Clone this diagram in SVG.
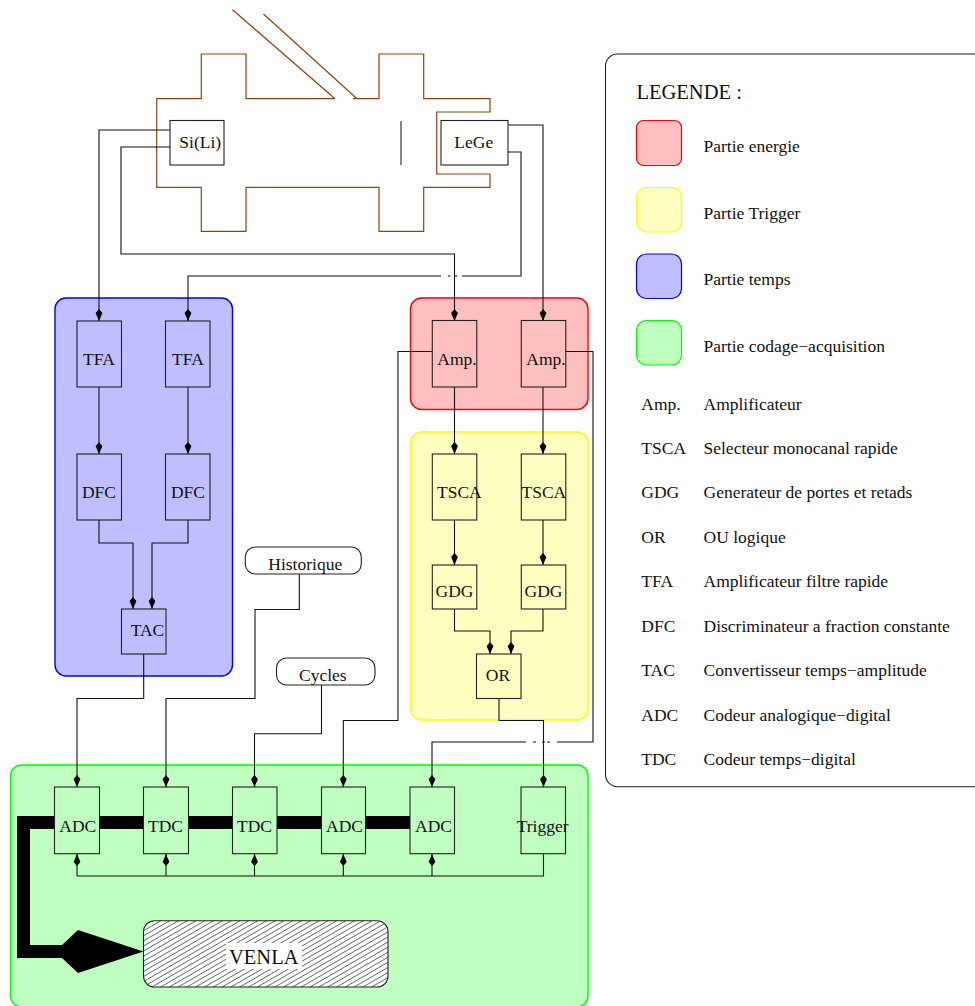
<svg xmlns="http://www.w3.org/2000/svg" width="975" height="1006" viewBox="0 0 975 1006">
<style>
text{font-family:"Liberation Serif","Times New Roman",serif;font-size:17.5px;fill:#111}
.big{font-size:20.5px}
.c{fill:none;stroke:#111;stroke-width:1.1}
.a{marker-end:url(#tip)}
.n{stroke:#222;stroke-width:1.1}
.ch{fill:none;stroke:#8b4513;stroke-width:1.2}
.r{fill:#ffbfbf}.y{fill:#ffffbf}.b{fill:#bfbfff}.g{fill:#bfffbf}
.gr{stroke-width:1.4}
</style>
<defs>
<marker id="tip" markerUnits="userSpaceOnUse" markerWidth="14" markerHeight="10" refX="12" refY="4" orient="auto"><path d="M0,4 L4,0.6 L12,4 L4,7.4 Z" fill="#000"/></marker>
<pattern id="hatch" patternUnits="userSpaceOnUse" width="8" height="4.4" patternTransform="rotate(-30)"><path d="M0,2.2H8" stroke="#333" stroke-width="0.7"/></pattern>
</defs>
<rect width="975" height="1006" fill="#fff"/>

<g id="chamber">
<path class="ch" d="M335,98.7H246V54H201.3V98.7H156.7V187.3H201.3V231.3H246V187.3H379V231.3H423.7V187.3H490V174H436.7V112H490V98.7H423.7V54H379V98.7H353"/>
<path class="ch" d="M335,98.7L232.5,9.7M357,98.7L263.5,14"/>
<path d="M401,121V165" stroke="#111" stroke-width="1" fill="none"/>
</g>

<g id="group-temps"><rect class="b gr" x="55" y="298" width="177.5" height="378" rx="11" stroke="#00f"/></g>
<g id="group-energie"><rect class="r gr" x="410.5" y="298" width="177.5" height="111.5" rx="11" stroke="#f00"/></g>
<g id="group-trigger"><rect class="y gr" x="410.5" y="432" width="177.5" height="288" rx="11" stroke="#ff0"/></g>
<g id="group-codage"><rect class="g gr" x="10.5" y="765" width="577.5" height="242" rx="11" stroke="#0f0"/></g>

<g id="connectors">
<path class="c a" d="M170,130H99V321"/>
<path class="c a" d="M170,147H121V254H454.5V321"/>
<path class="c a" d="M508,125H543V321"/>
<path class="c a" d="M508,152H521V276H462M457.5,276H455M450.5,276H448M441,276H188V321"/>
<path class="c a" d="M99,387V454"/>
<path class="c a" d="M188,387V454"/>
<path class="c a" d="M99,520V543H133V609"/>
<path class="c a" d="M188,520V543H152V609"/>
<path class="c a" d="M454.5,387V454"/>
<path class="c a" d="M543,387V454"/>
<path class="c a" d="M454.5,520V565"/>
<path class="c a" d="M543,520V565"/>
<path class="c a" d="M454.5,609V631H490V654"/>
<path class="c a" d="M543,609V631H511V654"/>
<path class="c a" d="M499,698V720.5H543.5V787"/>
<path class="c a" d="M432,351.5H398V720.5H343.3V787"/>
<path class="c a" d="M565.5,351.5H593V742H557M550,742H547M545,742H542M536,742H533M526,742H432V787"/>
<path class="c a" d="M143.7,654V698.5H77V787"/>
<path class="c a" d="M299.3,574V609.5H255V698.5H166V787"/>
<path class="c a" d="M321.5,685V733.7H254.5V787"/>
<path class="c" d="M543.5,853.7V876H77"/>
<path class="c a" d="M77,876V854"/>
<path class="c a" d="M166,876V854"/>
<path class="c a" d="M254.5,876V854"/>
<path class="c a" d="M343.3,876V854"/>
<path class="c a" d="M432,876V854"/>
<path d="M410,822.5H23.5V951.5H70" fill="none" stroke="#000" stroke-width="13"/>
<path d="M62,945L78,930L143.5,951.5L78,973L62,958Z" fill="#000"/>
</g>

<g id="si-li"><rect class="n" x="170" y="120.5" width="54" height="44.5" fill="#fff"/><text x="179.3" y="148">Si(Li)</text></g>
<g id="lege"><rect class="n" x="441" y="120.5" width="67" height="44.5" fill="#fff"/><text x="454.3" y="148">LeGe</text></g>

<g id="tfa1"><rect class="n b" x="77" y="321" width="44.5" height="66"/><text x="99" y="365" text-anchor="middle">TFA</text></g>
<g id="tfa2"><rect class="n b" x="165.5" y="321" width="44.5" height="66"/><text x="188" y="365" text-anchor="middle">TFA</text></g>
<g id="dfc1"><rect class="n b" x="77" y="454" width="44.5" height="66"/><text x="99" y="498" text-anchor="middle">DFC</text></g>
<g id="dfc2"><rect class="n b" x="165.5" y="454" width="44.5" height="66"/><text x="188" y="498" text-anchor="middle">DFC</text></g>
<g id="tac"><rect class="n b" x="121.5" y="609" width="44.5" height="45"/><text x="130.7" y="636">TAC</text></g>

<g id="amp1"><rect class="n r" x="432.3" y="320.5" width="44.5" height="66.5"/><text x="437.3" y="365">Amp.</text></g>
<g id="amp2"><rect class="n r" x="521.3" y="320.5" width="44.5" height="66.5"/><text x="526.3" y="365">Amp.</text></g>
<g id="tsca1"><rect class="n y" x="432.3" y="454" width="44.5" height="66"/><text x="437" y="498">TSCA</text></g>
<g id="tsca2"><rect class="n y" x="521.3" y="454" width="44.5" height="66"/><text x="521.5" y="498">TSCA</text></g>
<g id="gdg1"><rect class="n y" x="432.3" y="565" width="44.5" height="44"/><text x="454.5" y="597" text-anchor="middle">GDG</text></g>
<g id="gdg2"><rect class="n y" x="521.3" y="565" width="44.5" height="44"/><text x="543.5" y="597" text-anchor="middle">GDG</text></g>
<g id="or"><rect class="n y" x="476.5" y="654" width="44.5" height="44.5"/><text x="498" y="680.7" text-anchor="middle">OR</text></g>

<g id="historique"><rect class="n" x="245.3" y="547" width="116" height="27" rx="10" fill="#fff"/><text x="268.3" y="570">Historique</text></g>
<g id="cycles"><rect class="n" x="276.5" y="658" width="98.5" height="27" rx="10" fill="#fff"/><text x="299" y="680.7">Cycles</text></g>

<g id="adc1"><rect class="n g" x="54.5" y="787" width="45" height="66.7"/><text x="59.3" y="832">ADC</text></g>
<g id="tdc1"><rect class="n g" x="143.5" y="787" width="45" height="66.7"/><text x="148" y="832">TDC</text></g>
<g id="tdc2"><rect class="n g" x="232.5" y="787" width="44.5" height="66.7"/><text x="237" y="832">TDC</text></g>
<g id="adc2"><rect class="n g" x="321.5" y="787" width="44" height="66.7"/><text x="326" y="832">ADC</text></g>
<g id="adc3"><rect class="n g" x="410" y="787" width="44.5" height="66.7"/><text x="415" y="832">ADC</text></g>
<g id="trigger"><rect class="n g" x="521" y="787" width="44.5" height="66.7"/><text x="516.7" y="832">Trigger</text></g>

<g id="venla">
<rect x="143.5" y="920.7" width="244.5" height="66.3" rx="11" fill="#fff"/>
<rect class="n" x="143.5" y="920.7" width="244.5" height="66.3" rx="11" fill="url(#hatch)"/>
<rect x="226" y="943" width="76" height="26" fill="#fff"/>
<text class="big" x="229" y="964">VENLA</text>
</g>

<g id="legend">
<rect x="605.5" y="54" width="400" height="732.7" rx="12" fill="#fff" stroke="#222" stroke-width="1.1"/>
<text class="big" x="636.5" y="99">LEGENDE :</text>
<rect class="r" x="636.5" y="120.5" width="45" height="45" rx="7" stroke="#f00" stroke-width="1.2"/>
<rect class="y" x="636.5" y="187.5" width="45" height="44.5" rx="10" stroke="#ff0" stroke-width="1.2"/>
<rect class="b" x="636.5" y="254" width="45" height="44.5" rx="10" stroke="#00f" stroke-width="1.2"/>
<rect class="g" x="636.5" y="320.5" width="45" height="44.5" rx="10" stroke="#0f0" stroke-width="1.2"/>
<text x="703.5" y="151.7">Partie energie</text>
<text x="703.5" y="218.5">Partie Trigger</text>
<text x="703.5" y="285">Partie temps</text>
<text x="703.5" y="351.7">Partie codage−acquisition</text>
<text x="641.3" y="410">Amp.</text><text x="703.5" y="410">Amplificateur</text>
<text x="641.3" y="454">TSCA</text><text x="703.5" y="454">Selecteur monocanal rapide</text>
<text x="641.3" y="498">GDG</text><text x="703.5" y="498">Generateur de portes et retads</text>
<text x="641.3" y="542.7">OR</text><text x="703.5" y="542.7">OU logique</text>
<text x="641.3" y="587">TFA</text><text x="703.5" y="587">Amplificateur filtre rapide</text>
<text x="641.3" y="631.7">DFC</text><text x="703.5" y="631.7">Discriminateur a fraction constante</text>
<text x="641.3" y="676">TAC</text><text x="703.5" y="676">Convertisseur temps−amplitude</text>
<text x="641.3" y="720.5">ADC</text><text x="703.5" y="720.5">Codeur analogique−digital</text>
<text x="641.3" y="765">TDC</text><text x="703.5" y="765">Codeur temps−digital</text>
</g>
</svg>
